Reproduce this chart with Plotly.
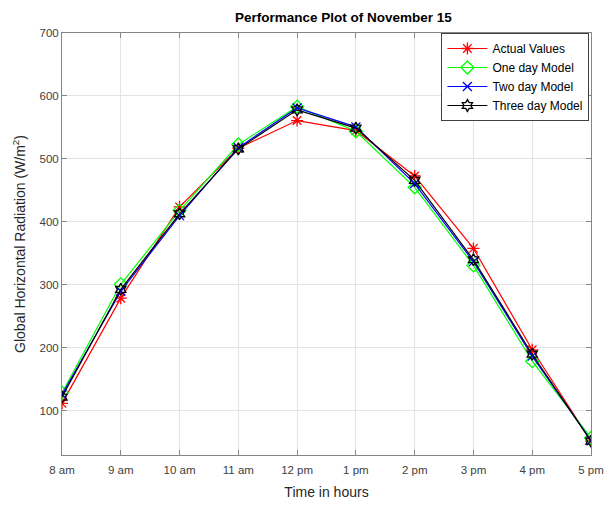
import plotly.graph_objects as go

hours = ["8 am", "9 am", "10 am", "11 am", "12 pm", "1 pm", "2 pm", "3 pm", "4 pm", "5 pm"]
actual = [112, 279, 424, 517, 561, 545, 473, 358, 197, 52]
one_day = [129, 301, 418, 523, 583, 544, 455, 331, 179, 57]
two_day = [126, 290, 410, 518, 581, 551, 461, 337, 187, 53]
three_day = [122, 293, 413, 516, 578, 549, 466, 340, 190, 52]
y_ticks = [100, 200, 300, 400, 500, 600, 700]

x = list(range(len(hours)))

series = [
    ("Actual Values", actual, "#ff0000", "asterisk-open", 10),
    ("One day Model", one_day, "#00ff00", "diamond-open", 10),
    ("Two day Model", two_day, "#0000ff", "x-thin-open", 9),
    ("Three day Model", three_day, "#000000", "hexagram-open", 9),
]

fig = go.Figure()
for name, vals, color, sym, size in series:
    fig.add_trace(go.Scatter(
        x=x, y=vals, name=name, mode="lines+markers",
        line=dict(color=color, width=1.2),
        marker=dict(symbol=sym, size=size, color=color, line=dict(color=color, width=1.3)),
    ))

axis_common = dict(
    showline=True, mirror="ticks", linecolor="#858585", linewidth=1,
    ticks="inside", ticklen=5, tickcolor="#858585",
    showgrid=True, gridcolor="#e4e4e4", gridwidth=1, zeroline=False,
    automargin=False,
    tickfont=dict(family="Liberation Sans, Arial", size=11.5, color="#404040"),
)

fig.update_layout(
    width=614, height=506,
    margin=dict(l=62, r=23, t=33, b=51),
    paper_bgcolor="white", plot_bgcolor="white",
    title=dict(text="<b>Performance Plot of November 15</b>",
               font=dict(family="Liberation Sans, Arial", size=13.5, color="#000000"),
               x=(62 + 591) / 2 / 614, xanchor="center", xref="paper",
               y=1 - 17 / 506, yanchor="middle", yref="container"),
    xaxis=dict(axis_common, range=[0, 9], tickvals=x, ticktext=hours,
               ticklabelstandoff=4,
               title=dict(text="Time in hours", standoff=12,
                          font=dict(family="Liberation Sans, Arial", size=14, color="#262626"))),
    yaxis=dict(axis_common, range=[30, 700], tickvals=y_ticks,
               title=dict(text="Global Horizontal Radiation (W/m<sup>2</sup>)", standoff=10,
                          font=dict(family="Liberation Sans, Arial", size=14, color="#262626"))),
    legend=dict(x=0.997, xanchor="right", y=1, yanchor="top",
                bgcolor="white", bordercolor="#404040", borderwidth=1,
                font=dict(family="Liberation Sans, Arial", size=12, color="#000000"),
                tracegroupgap=0, itemwidth=40),
    showlegend=True,
)

fig.write_html("out.html")
